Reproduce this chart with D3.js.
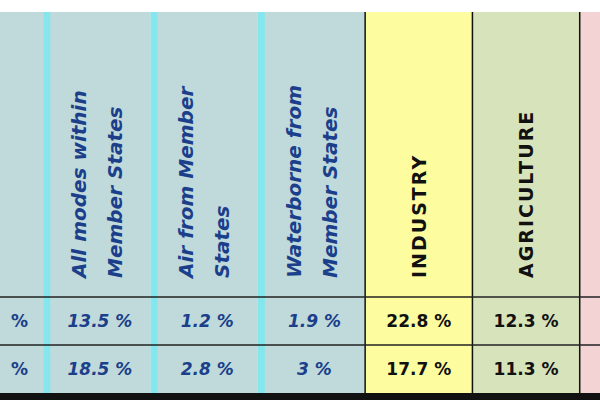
<!DOCTYPE html>
<html><head><meta charset="utf-8">
<script src="https://cdn.jsdelivr.net/npm/d3@7"></script>
<style>body{margin:0;background:#fff}</style>
</head><body>
<svg id="tbl" width="600" height="400"></svg>
<script>
// columns and their header lines
var columns = ["prev", "all", "air", "water", "ind", "agr", "next"];
var headerLines = [[], ["All modes within", "Member States"], ["Air from Member", "States"], ["Waterborne from", "Member States"], ["INDUSTRY"], ["AGRICULTURE"], []];
var row1 = ["%", "13.5 %", "1.2 %", "1.9 %", "22.8 %", "12.3 %", ""];
var row2 = ["%", "18.5 %", "2.8 %", "3 %", "17.7 %", "11.3 %", ""];
var fills = ["#c0dadb", "#c0dadb", "#c0dadb", "#c0dadb", "#fdfc9f", "#d7e3bb", "#f3d3d3"];

var svg = d3.select("#tbl");
var x = d3.scaleBand().domain(columns).range([-64, 687]);
var y = d3.scaleOrdinal().domain(["head", "r1", "r2"]).range([12, 297, 345]);
var rowBottom = 393;

svg.append("rect").attr("x", 0).attr("y", rowBottom).attr("width", 600).attr("height", 7).attr("fill", "#111");

svg.selectAll("rect.col").data(columns).enter().append("rect")
  .attr("x", function(d) { return x(d); }).attr("y", 12)
  .attr("width", x.bandwidth()).attr("height", rowBottom - 12)
  .attr("fill", function(d, i) { return fills[i]; });

// cyan separators in the blue part
["all", "air", "water"].forEach(function(c) {
  svg.append("rect").attr("x", x(c)).attr("y", 12).attr("width", 7).attr("height", rowBottom - 12).attr("fill", "#86e6ee");
});

// black borders
["ind", "agr", "next"].forEach(function(c) {
  svg.append("line").attr("x1", x(c)).attr("x2", x(c)).attr("y1", 12).attr("y2", rowBottom)
    .attr("stroke", "#111").attr("stroke-width", 1.5);
});
["r1", "r2"].forEach(function(r) {
  svg.append("line").attr("x1", 0).attr("x2", 600).attr("y1", y(r)).attr("y2", y(r))
    .attr("stroke", "#222").attr("stroke-width", 1.5);
});

// headers
headerLines.forEach(function(lines, i) {
  var c = columns[i];
  var blue = i < 4;
  var n = lines.length;
  lines.forEach(function(t, j) {
    var cx = x(c) + x.bandwidth() / 2 + (j - (n - 1) / 2) * 36;
    svg.append("text")
      .attr("transform", "translate(" + (cx + 7) + ",278) rotate(-90)")
      .attr("font-family", "DejaVu Sans, Verdana, sans-serif")
      .attr("font-size", blue ? 20 : 19).attr("font-weight", "bold")
      .attr("font-style", blue ? "italic" : "normal")
      .attr("letter-spacing", blue ? 0 : 2)
      .attr("fill", blue ? "#1b3f8a" : "#111").text(t);
  });
});

// data rows
[[row1, "r1"], [row2, "r2"]].forEach(function(pair) {
  var yc = pair[1] === "r1" ? (297 + 345) / 2 : (345 + rowBottom) / 2;
  pair[0].forEach(function(t, i) {
    var blue = i < 4;
    svg.append("text")
      .attr("x", i === 0 ? 28 : x(columns[i]) + x.bandwidth() / 2 + (blue ? 3 : 0)).attr("y", yc + 6)
      .attr("text-anchor", i === 0 ? "end" : "middle")
      .attr("font-family", "DejaVu Sans, Verdana, sans-serif")
      .attr("font-size", 17).attr("font-weight", "bold")
      .attr("font-style", blue && i > 0 ? "italic" : "normal")
      .attr("fill", blue ? "#1b3f8a" : "#111").text(t);
  });
});
</script>
</body></html>
